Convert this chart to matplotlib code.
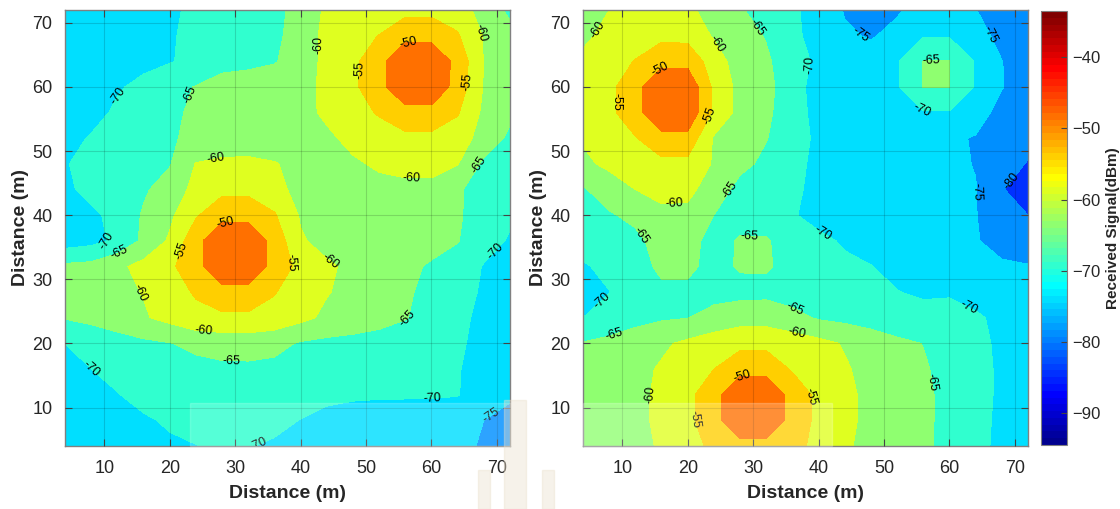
import numpy as np
import matplotlib.pyplot as plt
import matplotlib.patches as mpatches
from matplotlib.colors import ListedColormap, Normalize
from matplotlib.cm import ScalarMappable

plt.rcParams['font.family'] = ['Liberation Sans', 'DejaVu Sans']

# measurement grid (m)
dist = [4, 8, 12, 16, 20, 24, 28, 32, 36, 40, 44, 48, 52, 56, 60, 64, 68, 72]
levels = [-95, -90, -85, -80, -75, -70, -65, -60, -55, -50, -45, -40]
label_levels = [-80, -75, -70, -65, -60, -55, -50]
cbar_ticks = [-90, -80, -70, -60, -50, -40]

# received signal (dBm), rows from y=72 (top) down to y=4
left_rows = [
    [-73, -73, -72.5, -72, -70.8, -69, -68, -67, -65.8, -64, -59, -58.2, -57.2, -56.4, -56.4, -57.5, -62, -66],
    [-73, -73, -72.5, -72, -70.5, -68.7, -67.5, -66.5, -65.5, -64, -58.1, -56.5, -54.9, -51.5, -51.5, -54.5, -60.3, -63.5],
    [-73.5, -73, -72.5, -71.5, -70.3, -68.7, -66.3, -66, -65.3, -63, -58.5, -56.2, -51.5, -46, -46, -51.5, -60.2, -64],
    [-74, -73, -70.6, -68.5, -66.5, -64.8, -63.5, -63, -62.5, -61.5, -59, -56, -51.5, -46, -46, -52, -60.3, -63],
    [-74, -72, -69, -67.5, -65.8, -64.3, -63.5, -63, -62.5, -61.2, -59.3, -57, -54.5, -51.7, -51.7, -54.6, -61, -64],
    [-72, -69.5, -68, -67, -65.5, -64, -63, -62.5, -62, -61.5, -60.7, -59, -57.5, -56.2, -56.2, -57.5, -62, -66],
    [-70.3, -68.5, -67.5, -66.5, -65.3, -59.8, -59, -59, -59.8, -61, -61, -60.5, -59.5, -58.8, -58.8, -59.8, -66, -68],
    [-71, -68.5, -67, -65.6, -63, -58.5, -56.2, -56.2, -58.5, -61.5, -62, -61.5, -61, -61, -61, -64.3, -67.5, -69],
    [-73, -71, -68.5, -64.5, -61, -55.5, -51.7, -51.7, -54.5, -60.5, -62, -62.3, -62.3, -62.5, -63, -64.5, -67, -69.3],
    [-72.5, -71.5, -69, -64, -59.3, -51.5, -46, -46, -51.7, -59.5, -61.5, -62, -62.5, -63, -63.5, -64.8, -68, -70.5],
    [-64, -63.5, -61, -58.5, -56, -51.7, -46, -46, -51.7, -56.5, -59.3, -61, -62.5, -64, -65.5, -67, -70.3, -71.5],
    [-62.5, -62, -61.3, -59.8, -57, -54.5, -51.7, -51.7, -54.7, -58, -59.7, -61.5, -63, -64.5, -66, -68.5, -70.5, -72],
    [-64.7, -63.8, -62.5, -60.5, -58.5, -56.3, -56, -56, -56.8, -58.7, -61, -62.3, -63.5, -64.8, -66.5, -69, -71, -72.5],
    [-70, -68.3, -67, -66, -65.2, -63.8, -63, -62.8, -63.5, -65.5, -66.2, -66.5, -66.8, -67.2, -68, -69.5, -71, -72.5],
    [-71.5, -70, -68.5, -67.5, -67, -66.5, -66, -66, -66.3, -67, -67.5, -67.8, -68, -68.3, -68.8, -69.7, -72, -73.5],
    [-73, -71.5, -70.2, -68.5, -68, -67.5, -67, -67, -67.5, -68.5, -69.2, -69.5, -69.6, -69.6, -69.6, -69.8, -72.5, -74.3],
    [-74, -73, -72, -70.6, -69.4, -68.5, -68, -68.2, -69, -70.1, -71, -71.5, -71.8, -72, -72.3, -73, -75, -76.5],
    [-74, -73.5, -72.5, -71.5, -70.7, -70.1, -69.5, -69.8, -70.5, -71.5, -72, -72.5, -72.8, -73, -73.5, -74.3, -75.3, -77],
]

right_rows = [
    [-61, -60, -58.5, -58, -59, -62, -64.6, -66.8, -69.2, -72, -75.3, -76.5, -75.4, -73.5, -73, -74.9, -77, -78],
    [-60.7, -59, -57.3, -56.2, -56.5, -60.5, -63, -65.3, -68.8, -72, -74.5, -75.3, -74, -70.4, -70.4, -73, -76.5, -78],
    [-59.3, -57, -54.8, -51.5, -51.5, -57.5, -62.5, -64.3, -67.8, -71, -72.5, -73.5, -70.4, -64.9, -64.9, -70.4, -74.9, -77.5],
    [-58.5, -56.3, -51.5, -46, -46, -56, -61.5, -63.5, -68, -72, -73, -73.5, -70.4, -64.9, -64.9, -70.4, -74.8, -77.5],
    [-59, -56.3, -51.5, -46, -46, -56, -61.5, -64, -68, -71.5, -72.5, -73.5, -72.5, -70.4, -70.4, -73, -76.5, -78],
    [-59.5, -57.5, -55.3, -51.5, -51.5, -60.5, -62.5, -64.8, -67.8, -71, -72.5, -73, -73.3, -73.5, -74.3, -75.3, -77, -78.5],
    [-61, -59, -57.8, -56.3, -56.3, -60.5, -63.8, -66, -68.8, -71, -72.5, -73, -73.3, -73.5, -74, -75.2, -78, -80.3],
    [-65.5, -62.5, -60, -58.5, -58.7, -62.5, -66.5, -67.5, -69.3, -71, -72, -72.5, -73, -73.3, -73.8, -74.8, -79.8, -81.5],
    [-67, -65.5, -63.8, -61.2, -61.3, -65, -67, -67.5, -69.6, -71.5, -72, -72.5, -73, -73.5, -74, -74.8, -78.5, -80],
    [-68, -67.3, -66.2, -63, -63, -67, -64.5, -64.5, -67.5, -69, -70.5, -71.5, -72, -72.5, -73.5, -74.5, -77.5, -79],
    [-70.5, -68.8, -67, -64, -64, -66.5, -64.5, -64.5, -66.5, -68, -69.2, -69.9, -71, -71.5, -72, -72.8, -74, -74.6],
    [-72, -70.1, -67.5, -66, -66, -66.5, -66.5, -66.3, -67.2, -68, -68.8, -69.5, -69.9, -70.5, -70.2, -70.8, -72.5, -73.5],
    [-70, -68, -66.5, -65.6, -65.1, -63.5, -62, -62, -63.5, -65.5, -66.3, -67, -68, -68.8, -69.3, -69.7, -70.5, -72.5],
    [-64.7, -63.8, -62.5, -60.8, -59, -57.3, -56.3, -56.3, -57.3, -58.6, -60.4, -62.5, -64, -65.1, -67.5, -69.3, -70.5, -72],
    [-63.5, -62.7, -61.3, -59.5, -57, -55, -51.7, -51.7, -55.5, -57.3, -59.5, -61.5, -63.3, -64.5, -66.5, -69, -70.5, -72],
    [-63.5, -62.8, -61.3, -59, -56.3, -51.7, -46, -46, -51.7, -56.3, -58.8, -61.3, -63, -64.3, -66, -68.8, -70.6, -72],
    [-63.5, -62.8, -61.2, -59, -56.3, -51.7, -46, -46, -51.7, -56.3, -58.8, -61.3, -63, -64.3, -66, -68.8, -70.8, -72.2],
    [-63.5, -62.8, -61.3, -59.5, -57.5, -53.5, -51.7, -51.7, -53.5, -56.3, -59.3, -61.5, -63, -64.4, -66, -68.8, -71, -72.5],
]

# where the contour labels sit
left_label_pos = [(12.7, 58.2), (23.4, 58.7), (43, 66.5), (49.4, 62.6), (56.5, 66.3), (65.5, 60.8),
                  (66.7, 68.1), (26.9, 49.6), (57, 46), (67.8, 47.5), (10.9, 35.3), (12.3, 34),
                  (28.5, 38.4), (22.2, 34.3), (38.7, 32.7), (44.3, 32.5), (69, 35.1), (15.4, 27.8),
                  (25.2, 22.3), (29.5, 17.9), (56.5, 23.6), (7.8, 15.8), (60.1, 11.1), (69, 9.1),
                  (33.1, 5.2)]
right_label_pos = [(6.5, 68.8), (29.7, 68.5), (23.3, 66), (45.8, 67.5), (38, 63.6), (66.4, 68.3),
                   (57.2, 63.9), (56, 56.6), (16.2, 62.3), (9.1, 57.6), (23.2, 55.6), (26.1, 44.2),
                   (18, 42.1), (64.1, 43.6), (69.5, 45.2), (12.9, 36.9), (29.4, 36.3), (40.2, 36.4),
                   (6.8, 26.8), (64.4, 28.6), (36.1, 24.7), (36.6, 21.2), (8.8, 21.2), (28.3, 14.5),
                   (38.6, 11.7), (13.9, 12), (21.3, 8.1), (58, 14.1)]


def matlab_jet(m=64):
    n = int(np.ceil(m / 4))
    u = np.concatenate([np.arange(1, n + 1) / n, np.ones(n - 1), np.arange(n, 0, -1) / n])
    g = int(np.ceil(n / 2)) - (1 if m % 4 == 1 else 0) + np.arange(1, len(u) + 1)
    r = g + n
    b = g - n
    J = np.zeros((m, 3))
    for col, idx in ((0, r), (1, g), (2, b)):
        ok = (idx >= 1) & (idx <= m)
        J[idx[ok] - 1, col] = u[ok]
    return J


jet64 = matlab_jet(64)
cmin, cmax = -95, -35
band_colors = [jet64[min(63, max(0, int((lv - cmin) / (cmax - cmin) * 64)))] for lv in levels[:-1]]

X, Y = np.meshgrid(dist, dist)

fig = plt.figure(figsize=(11.2, 5.09), dpi=100)
W, H = 1120, 509
ax1 = fig.add_axes([65 / W, 1 - 446 / H, 445 / W, 436 / H])
ax2 = fig.add_axes([583 / W, 1 - 446 / H, 445 / W, 436 / H])
cax = fig.add_axes([1041 / W, 1 - 445 / H, 26 / W, 434 / H])

for ax, rows, lab_pos in ((ax1, left_rows, left_label_pos), (ax2, right_rows, right_label_pos)):
    Z = np.array(rows)[::-1]
    ax.contourf(X, Y, Z, levels=levels, colors=band_colors)
    cs = ax.contour(X, Y, Z, levels=label_levels, colors='k', linewidths=0)
    ax.clabel(cs, label_levels, fmt='%d', fontsize=9, inline=True, inline_spacing=1,
              manual=lab_pos)
    ax.set_xlim(4, 72)
    ax.set_ylim(4, 72)
    ax.set_xticks([10, 20, 30, 40, 50, 60, 70])
    ax.set_yticks([10, 20, 30, 40, 50, 60, 70])
    ax.grid(True, color='k', alpha=0.15, linewidth=0.8)
    ax.set_axisbelow(False)
    ax.tick_params(direction='in', top=True, right=True, length=5, width=0.8,
                   color='#444444', labelsize=13, labelcolor='#262626')
    ax.tick_params(axis='x', pad=10)
    ax.tick_params(axis='y', pad=9)
    for sp in ax.spines.values():
        sp.set_color('#808080')
        sp.set_linewidth(1.0)
    ax.set_xlabel('Distance (m)', fontsize=14, fontweight='bold', color='#262626', labelpad=6)
    ax.set_ylabel('Distance (m)', fontsize=14, fontweight='bold', color='#262626', labelpad=2)

sm = ScalarMappable(norm=Normalize(-94.5, -33.5), cmap=ListedColormap(jet64))
cb = fig.colorbar(sm, cax=cax, ticks=cbar_ticks)
cb.ax.tick_params(direction='in', length=4, labelsize=12, labelcolor='#262626', color='#444444')
cb.outline.set_edgecolor('#808080')
cb.set_label('Received Signal(dBm)', fontsize=11, fontweight='bold', color='#262626')

# scanning artefacts: pale band along the bottom and a faint emblem
fig.patches.append(mpatches.Rectangle((190 / W, 1 - 446 / H), 322 / W, 43 / H,
                                      transform=fig.transFigure, color='white', alpha=0.18, zorder=5))
fig.patches.append(mpatches.Rectangle((583 / W, 1 - 446 / H), 249 / W, 43 / H,
                                      transform=fig.transFigure, color='white', alpha=0.22, zorder=5))
for x0, y0, w in ((478, 470, 12), (504, 400, 22), (542, 470, 12)):
    fig.patches.append(mpatches.Rectangle((x0 / W, 0), w / W, (H - y0) / H,
                                          transform=fig.transFigure, color='#eadfcb', alpha=0.4, zorder=5))

fig.savefig('out.png', dpi=100)
